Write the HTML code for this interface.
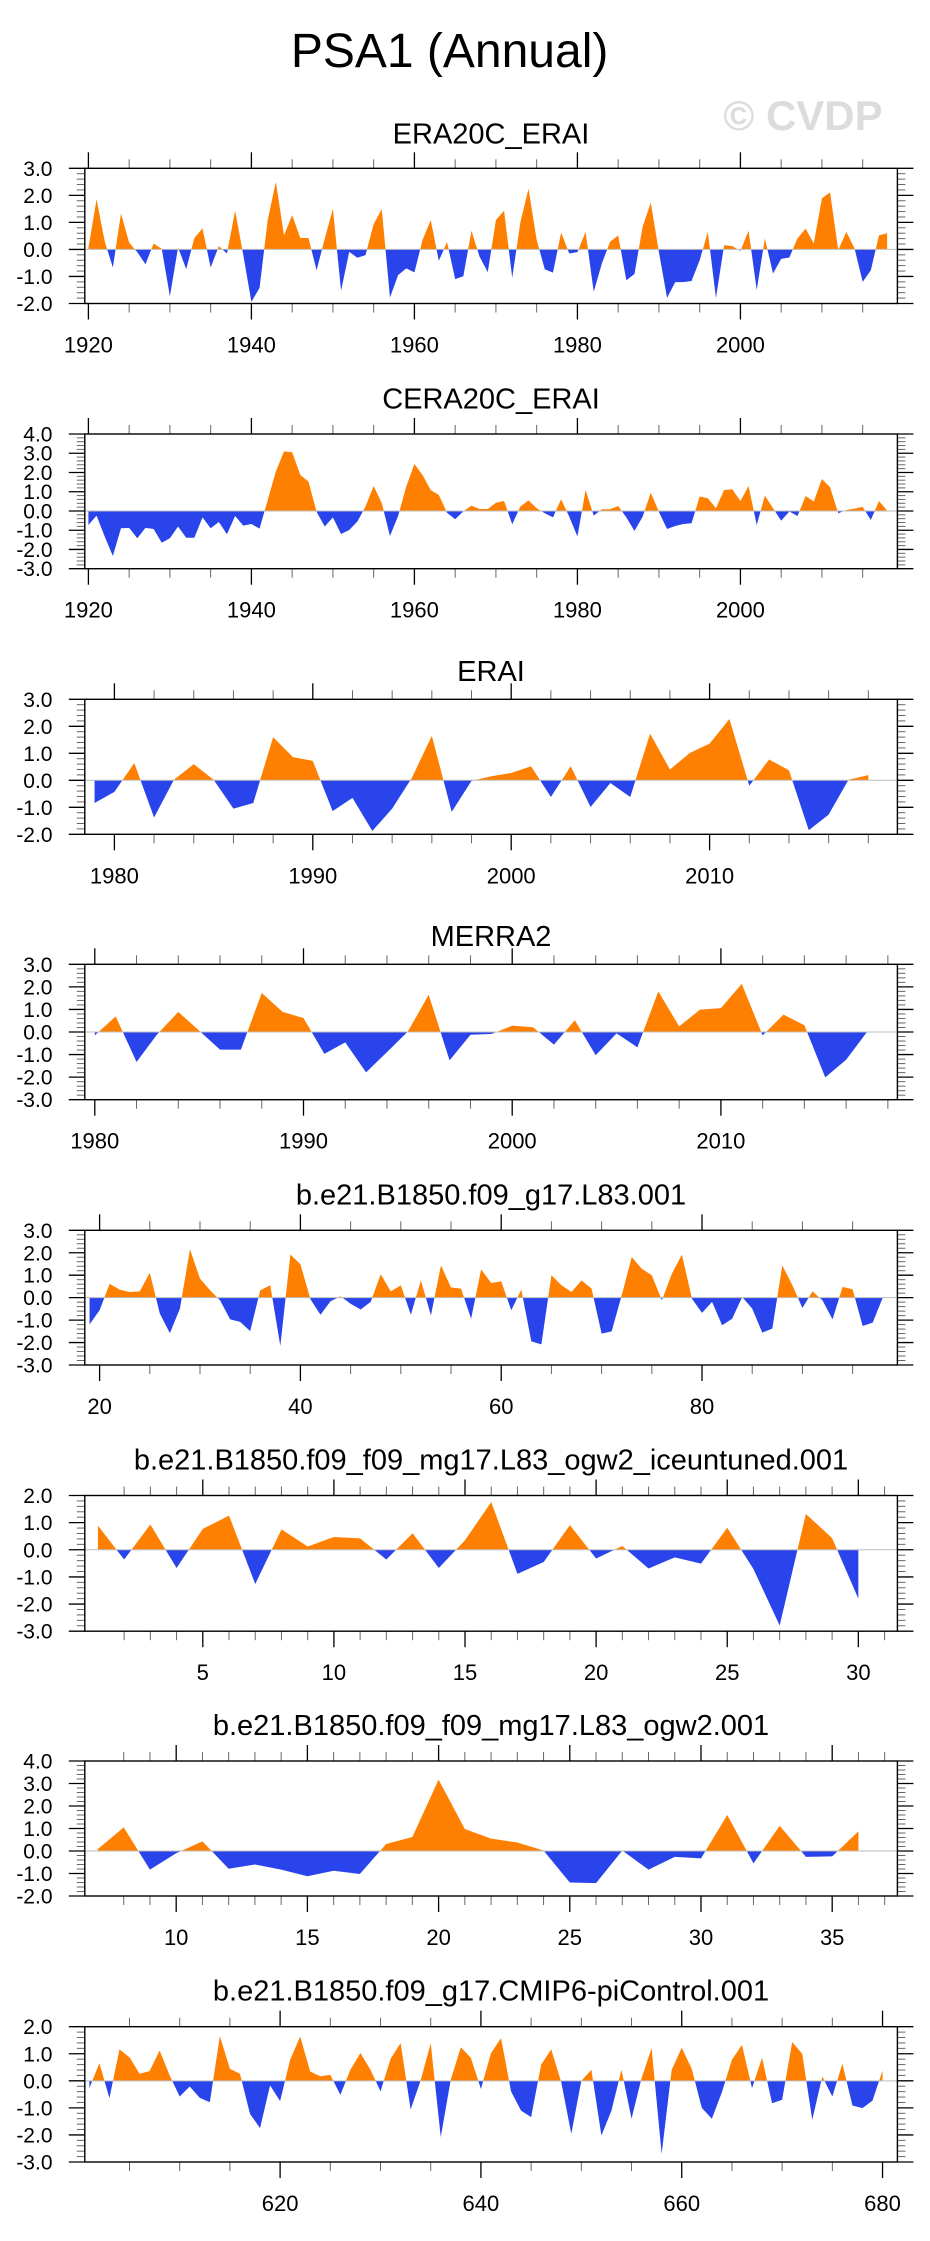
<!DOCTYPE html>
<html><head><meta charset="utf-8"><title>PSA1 (Annual)</title>
<style>html,body{margin:0;padding:0;background:#fff}svg{display:block}text{font-family:"Liberation Sans",Arial,sans-serif}</style>
</head><body>
<svg id="fig" width="930" height="2241" viewBox="0 0 930 2241" xmlns="http://www.w3.org/2000/svg">
<text x="449.6" y="67" font-size="48" text-anchor="middle" fill="#000">PSA1 (Annual)</text>
<text x="803" y="130" font-size="42" font-weight="bold" text-anchor="middle" fill="#dcdcdc">© CVDP</text>
</svg>
<script>
// ---- data ----
const era20cStart = 1920;
const era20cValues = [0.05,1.85,0.3,-0.67,1.33,0.25,-0.1,-0.55,0.22,0.02,-1.73,0.07,-0.73,0.42,0.78,-0.67,0.12,-0.15,1.43,-0.2,-1.94,-1.42,1.09,2.5,0.52,1.27,0.42,0.42,-0.77,0.4,1.5,-1.53,-0.09,-0.31,-0.21,0.94,1.49,-1.78,-0.95,-0.7,-0.85,0.35,1.09,-0.42,0.28,-1.1,-0.99,0.69,-0.27,-0.84,1.09,1.43,-1.05,1.0,2.25,0.35,-0.74,-0.86,0.62,-0.15,-0.1,0.65,-1.57,-0.52,0.28,0.52,-1.14,-0.91,0.84,1.73,-0.1,-1.79,-1.21,-1.21,-1.17,-0.4,0.65,-1.79,0.16,0.12,-0.05,0.69,-1.5,0.41,-0.89,-0.35,-0.3,0.41,0.77,0.22,1.89,2.11,-0.02,0.65,0.04,-1.2,-0.77,0.52,0.6];
const cera20cStart = 1920;
const cera20cValues = [-0.73,-0.24,-1.33,-2.34,-0.9,-0.88,-1.42,-0.88,-0.94,-1.65,-1.42,-0.81,-1.39,-1.39,-0.33,-0.9,-0.57,-1.21,-0.26,-0.76,-0.68,-0.92,0.57,2.05,3.1,3.05,1.87,1.53,-0.05,-0.81,-0.33,-1.2,-0.99,-0.55,0.23,1.3,0.4,-1.3,-0.26,1.27,2.44,1.87,1.09,0.83,-0.09,-0.43,-0.02,0.28,0.1,0.1,0.43,0.52,-0.69,0.23,0.55,0.14,-0.12,-0.33,0.61,-0.3,-1.33,1.09,-0.24,0.09,0.09,0.26,-0.33,-1.04,-0.3,0.95,-0.05,-0.94,-0.78,-0.68,-0.64,0.75,0.66,0.14,1.09,1.13,0.52,1.3,-0.73,0.8,0.14,-0.5,-0.03,-0.26,0.78,0.49,1.66,1.23,-0.12,0.05,0.12,0.21,-0.47,0.52,0.02];
const eraiStart = 1979;
const eraiValues = [-0.84,-0.43,0.64,-1.38,0.02,0.6,0.02,-1.05,-0.84,1.6,0.86,0.72,-1.14,-0.65,-1.88,-1.05,0.1,1.65,-1.17,-0.02,0.15,0.27,0.52,-0.62,0.52,-0.99,-0.1,-0.62,1.73,0.4,1.01,1.36,2.27,-0.2,0.77,0.37,-1.85,-1.27,0.02,0.19];
const merra2Start = 1980;
const merra2Values = [-0.15,0.69,-1.33,-0.09,0.89,0.06,-0.78,-0.78,1.73,0.89,0.62,-0.97,-0.46,-1.79,-0.89,0.02,1.65,-1.26,-0.12,-0.09,0.28,0.21,-0.56,0.52,-1.03,-0.06,-0.68,1.8,0.25,0.99,1.06,2.13,-0.15,0.77,0.3,-2.01,-1.23,0.0];
const l83Start = 19;
const l83Values = [-1.19,-0.56,0.62,0.36,0.25,0.28,1.11,-0.71,-1.58,-0.49,2.15,0.85,0.33,-0.12,-0.97,-1.08,-1.49,0.33,0.55,-2.15,1.92,1.49,-0.07,-0.76,-0.16,0.06,-0.27,-0.53,-0.19,1.04,0.28,0.55,-0.76,0.77,-0.79,1.44,0.45,0.4,-0.94,1.26,0.65,0.73,-0.56,0.36,-1.95,-2.08,1.0,0.55,0.25,0.77,0.4,-1.6,-1.5,0.1,1.81,1.29,1.0,-0.12,1.07,1.92,-0.05,-0.68,-0.19,-1.23,-0.94,0.03,-0.49,-1.56,-1.38,1.44,0.55,-0.46,0.28,-0.12,-0.97,0.48,0.37,-1.26,-1.11,0.0];
const iceStart = 1;
const iceValues = [0.89,-0.36,0.93,-0.67,0.77,1.26,-1.26,0.75,0.12,0.47,0.42,-0.36,0.61,-0.67,0.35,1.76,-0.89,-0.45,0.91,-0.32,0.14,-0.69,-0.28,-0.51,0.81,-0.71,-2.79,1.32,0.43,-1.8];
const ogw2Start = 7;
const ogw2Values = [0.07,1.05,-0.83,-0.1,0.43,-0.79,-0.6,-0.83,-1.12,-0.88,-1.02,0.31,0.62,3.17,0.98,0.55,0.38,0.02,-1.4,-1.43,0.02,-0.83,-0.26,-0.33,1.6,-0.55,1.12,-0.26,-0.24,0.88];
const piStart = 601;
const piValues = [-0.27,0.65,-0.64,1.16,0.87,0.26,0.36,1.12,0.2,-0.58,-0.21,-0.63,-0.79,1.65,0.44,0.26,-1.22,-1.75,-0.17,-0.75,0.78,1.64,0.34,0.17,0.22,-0.52,0.41,1.03,0.41,-0.39,0.81,1.4,-1.06,0.02,1.39,-2.08,0.05,1.24,0.85,-0.3,1.02,1.58,-0.39,-1.1,-1.34,0.6,1.16,-0.05,-1.96,0.0,0.41,-2.02,-1.1,0.41,-1.4,0.1,1.21,-2.7,0.41,1.22,0.44,-1.0,-1.4,-0.42,0.78,1.33,-0.27,0.85,-0.83,-0.7,1.43,1.0,-1.44,0.16,-0.58,0.63,-0.91,-1.01,-0.73,0.38];
// tick labels
const ticksYears20 = [1920,1940,1960,1980,2000];
const ticksYears10a = [1980,1990,2000,2010];
const ticksYears10b = [1980,1990,2000,2010];
const ticksModel = [20,40,60,80];
const ticksIce = [5,10,15,20,25,30];
const ticksOgw2 = [10,15,20,25,30,35];
const ticksPi = [620,640,660,680];

const svg = document.getElementById('fig');
const NS = 'http://www.w3.org/2000/svg';
const L = 84.8, R = 897.4;
function mk(tag, attrs, parent){const e=document.createElementNS(NS,tag);for(const k in attrs)e.setAttribute(k,attrs[k]);(parent||svg).appendChild(e);return e;}

let clipId = 0;
function panel(c, start, vals, majors){
  const g = mk('g',{});
  
  
  const xs = v => L + (v - c.xmin)/(c.xmax - c.xmin)*(R - L);
  const ys = v => c.top + (c.ymax - v)/(c.ymax - c.ymin)*(c.bot - c.top);
  const t = mk('text',{x:491,y:c.ty,'font-size':29,'text-anchor':'middle',fill:'#000'},g);
  t.textContent = c.title;
  
  
  // area
  const y0 = ys(0);
  let d = 'M' + xs(start).toFixed(2) + ' ' + y0.toFixed(2);
  vals.forEach((v,i)=>{ d += ' L' + xs(start+i).toFixed(2) + ' ' + ys(v).toFixed(2); });
  d += ' L' + xs(start+vals.length-1).toFixed(2) + ' ' + y0.toFixed(2) + ' Z';
  const ida = 'ca'+(clipId++), idb = 'cb'+(clipId++);
  const defs = mk('defs',{},g);
  const ca = mk('clipPath',{id:ida},defs); mk('rect',{x:0,y:c.top,width:930,height:y0-c.top},ca);
  const cb = mk('clipPath',{id:idb},defs); mk('rect',{x:0,y:y0,width:930,height:c.bot-y0},cb);
  const pos = mk('path',{d:d,fill:'#ff8000','clip-path':'url(#'+ida+')'},g);
  
  
  const neg = mk('path',{d:d,fill:'#2944ea','clip-path':'url(#'+idb+')'},g);
  
  
  const zl = mk('line',{x1:L,x2:R,y1:y0,y2:y0,stroke:'#bdbdbd','stroke-width':1},g);
  
  
  // y ticks
  const nMin = Math.round((c.ymax - c.ymin)/0.2);
  for(let k=0;k<=nMin;k++){
    const v = c.ymax - k*0.2; const y = ys(v);
    const major = (k % 5 === 0);
    const len = major ? 16 : 8;
    mk('line',{x1:L-len,x2:L,y1:y,y2:y,stroke:major?'#000':'#666','stroke-width':major?1.3:1},g);
    mk('line',{x1:R,x2:R+len,y1:y,y2:y,stroke:major?'#000':'#666','stroke-width':major?1.3:1},g);
    if(major){
      const tl = mk('text',{x:52.5,y:y+7.5,'font-size':21,'text-anchor':'end',fill:'#000'},g);
      tl.textContent = v.toFixed(1).replace('-0.0','0.0');
      
      
    }
  }
  // x ticks
  const first = Math.ceil(c.minStart/c.minor)*c.minor;
  for(let v=c.minStartExact!==undefined?c.minStartExact:first; v<=c.xmax+1e-6; v+=c.minor){
    if(v < c.xmin) continue;
    const x = xs(v);
    const major = majors.some(m=>Math.abs(m-v)<1e-6);
    const len = major ? 16 : 9;
    mk('line',{x1:x,x2:x,y1:c.top-len,y2:c.top,stroke:major?'#000':'#666','stroke-width':major?1.3:1},g);
    mk('line',{x1:x,x2:x,y1:c.bot,y2:c.bot+len,stroke:major?'#000':'#666','stroke-width':major?1.3:1},g);
  }
  majors.forEach(m=>{
    const tl = mk('text',{x:xs(m),y:c.bot+49,'font-size':22,'text-anchor':'middle',fill:'#000'},g);
    tl.textContent = String(m);
    
    
  });
  const fr = mk('rect',{x:L,y:c.top,width:R-L,height:c.bot-c.top,fill:'none',stroke:'#000','stroke-width':1.4},g);
  
  
}

panel({name:'era20c-erai',title:'ERA20C_ERAI',top:168.3,bot:303.5,ty:143.5,ymax:3,ymin:-2,xmin:1919.558,xmax:2019.26,minor:5,minStart:1920},era20cStart,era20cValues,ticksYears20);
panel({name:'cera20c-erai',title:'CERA20C_ERAI',top:434,bot:568.7,ty:408.7,ymax:4,ymin:-3,xmin:1919.558,xmax:2019.26,minor:5,minStart:1920},cera20cStart,cera20cValues,ticksYears20);
panel({name:'erai',title:'ERAI',top:699.3,bot:834.3,ty:681,ymax:3,ymin:-2,xmin:1978.508,xmax:2019.466,minor:2,minStart:1980},eraiStart,eraiValues,ticksYears10a);
panel({name:'merra2',title:'MERRA2',top:964.3,bot:1099.7,ty:946,ymax:3,ymin:-3,xmin:1979.521,xmax:2018.457,minor:2,minStart:1980},merra2Start,merra2Values,ticksYears10b);
panel({name:'l83-001',title:'b.e21.B1850.f09_g17.L83.001',top:1230.3,bot:1365,ty:1204.6,ymax:3,ymin:-3,xmin:18.526,xmax:99.46,minor:5,minStart:20},l83Start,l83Values,ticksModel);
panel({name:'ogw2-iceuntuned',title:'b.e21.B1850.f09_f09_mg17.L83_ogw2_iceuntuned.001',top:1495.5,bot:1631.2,ty:1469.7,ymax:2,ymin:-3,xmin:0.5,xmax:31.49,minor:1,minStart:2,minStartExact:2},iceStart,iceValues,ticksIce);
panel({name:'ogw2',title:'b.e21.B1850.f09_f09_mg17.L83_ogw2.001',top:1761,bot:1896,ty:1735,ymax:4,ymin:-2,xmin:6.517,xmax:37.485,minor:1,minStart:8,minStartExact:8},ogw2Start,ogw2Values,ticksOgw2);
panel({name:'cmip6-picontrol',title:'b.e21.B1850.f09_g17.CMIP6-piControl.001',top:2026.7,bot:2162,ty:2000.7,ymax:2,ymin:-3,xmin:600.548,xmax:681.48,minor:5,minStart:605},piStart,piValues,ticksPi);
</script>
</body></html>
